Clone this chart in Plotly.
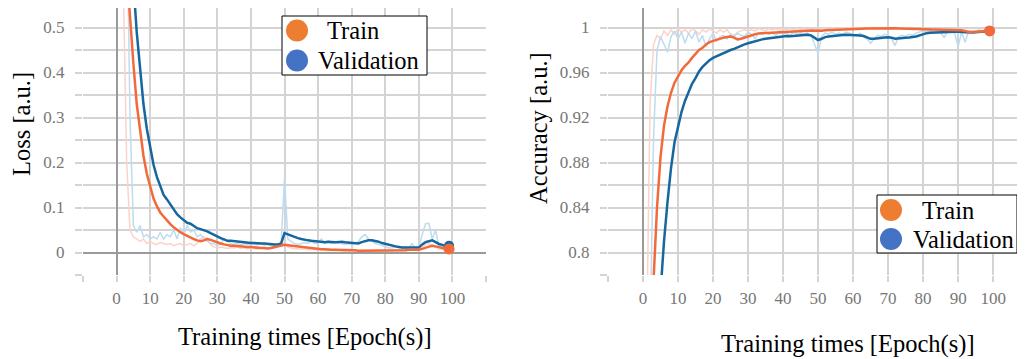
import plotly.graph_objects as go

epochs = list(range(100))

train_loss_raw = [1.8, 1.0, 0.6, 0.2, 0.05, 0.035, 0.03, 0.025, 0.03, 0.02,
                  0.025, 0.02, 0.018, 0.022, 0.02, 0.018, 0.02, 0.015, 0.018, 0.02,
                  0.015, 0.018, 0.02, 0.015, 0.02, 0.03, 0.035, 0.03, 0.018, 0.012,
                  0.01, 0.012, 0.01, 0.009, 0.011, 0.01, 0.012, 0.009, 0.01, 0.008,
                  0.01, 0.009, 0.008, 0.01, 0.008, 0.009, 0.01, 0.012, 0.015, 0.02,
                  0.02, 0.012, 0.01, 0.008, 0.009, 0.007, 0.008, 0.006, 0.007, 0.006,
                  0.005, 0.006, 0.005, 0.004, 0.005, 0.004, 0.005, 0.004, 0.003, 0.004,
                  0.003, 0.004, 0.003, 0.004, 0.003, 0.004, 0.003, 0.004, 0.004, 0.005,
                  0.004, 0.005, 0.004, 0.006, 0.005, 0.006, 0.005, 0.007, 0.006, 0.007,
                  0.008, 0.012, 0.018, 0.02, 0.015, 0.012, 0.008, 0.007, 0.006, 0.007]
val_loss_raw = [2.0, 1.6, 1.2, 0.8, 0.3, 0.06, 0.045, 0.06, 0.035, 0.04,
                0.03, 0.035, 0.03, 0.045, 0.03, 0.04, 0.035, 0.05, 0.03, 0.055,
                0.04, 0.06, 0.045, 0.05, 0.035, 0.04, 0.03, 0.025, 0.02, 0.02,
                0.015, 0.02, 0.03, 0.025, 0.02, 0.018, 0.02, 0.017, 0.02, 0.018,
                0.02, 0.018, 0.017, 0.02, 0.016, 0.018, 0.015, 0.014, 0.016, 0.02,
                0.165, 0.03, 0.025, 0.02, 0.018, 0.02, 0.022, 0.02, 0.025, 0.02,
                0.021, 0.03, 0.02, 0.025, 0.02, 0.022, 0.026, 0.02, 0.018, 0.02,
                0.018, 0.02, 0.025, 0.035, 0.04, 0.03, 0.025, 0.02, 0.018, 0.015,
                0.012, 0.01, 0.01, 0.012, 0.015, 0.01, 0.008, 0.01, 0.02, 0.008,
                0.01, 0.04, 0.064, 0.065, 0.03, 0.05, 0.012, 0.012, 0.01, 0.013]
train_loss_smooth = [1.2, 0.95, 0.78, 0.63, 0.52, 0.42, 0.33, 0.27, 0.215, 0.175,
                     0.145, 0.12, 0.103, 0.089, 0.08, 0.071, 0.063, 0.056, 0.05, 0.045,
                     0.041, 0.037, 0.033, 0.03, 0.027, 0.025, 0.027, 0.03, 0.028, 0.025,
                     0.022, 0.02, 0.018, 0.016, 0.015, 0.015, 0.014, 0.014, 0.013, 0.012,
                     0.012, 0.011, 0.01, 0.01, 0.01, 0.009, 0.01, 0.012, 0.014, 0.016,
                     0.017, 0.016, 0.015, 0.014, 0.013, 0.012, 0.011, 0.01, 0.009, 0.008,
                     0.008, 0.007, 0.007, 0.006, 0.006, 0.006, 0.006, 0.005, 0.005, 0.005,
                     0.005, 0.005, 0.004, 0.004, 0.004, 0.004, 0.004, 0.004, 0.004, 0.004,
                     0.004, 0.005, 0.005, 0.005, 0.005, 0.005, 0.005, 0.006, 0.006, 0.006,
                     0.006, 0.008, 0.011, 0.013, 0.015, 0.014, 0.012, 0.01, 0.009, 0.008]
val_loss_smooth = [1.5, 1.25, 1.05, 0.86, 0.72, 0.6, 0.49, 0.41, 0.33, 0.275,
                   0.23, 0.195, 0.168, 0.146, 0.128, 0.118, 0.106, 0.095, 0.085, 0.078,
                   0.072, 0.066, 0.064, 0.058, 0.054, 0.052, 0.05, 0.047, 0.043, 0.039,
                   0.035, 0.032, 0.029, 0.026, 0.026, 0.025, 0.024, 0.023, 0.022, 0.022,
                   0.021, 0.021, 0.02, 0.02, 0.02, 0.019, 0.019, 0.018, 0.018, 0.02,
                   0.043, 0.04, 0.037, 0.035, 0.032, 0.03, 0.028, 0.027, 0.026, 0.025,
                   0.024, 0.024, 0.023, 0.024, 0.023, 0.023, 0.023, 0.024, 0.023, 0.022,
                   0.022, 0.021, 0.02, 0.023, 0.025, 0.027, 0.027, 0.026, 0.024, 0.021,
                   0.019, 0.017, 0.015, 0.013, 0.012, 0.011, 0.011, 0.01, 0.011, 0.01,
                   0.011, 0.018, 0.023, 0.025, 0.027, 0.023, 0.019, 0.017, 0.014, 0.015]

train_acc_raw = [0.5, 0.7, 0.93, 0.985, 0.993, 0.99, 0.997, 0.993, 0.998, 0.994,
                 0.999, 0.996, 0.998, 0.995, 0.999, 0.997, 0.994, 0.998, 0.996, 0.999,
                 0.997, 0.995, 0.998, 0.996, 0.998, 0.994, 0.993, 0.996, 0.997, 0.998,
                 0.997, 0.998, 0.997, 0.999, 0.998, 0.997, 0.999, 0.998, 0.999, 0.997,
                 0.999, 0.998, 0.999, 0.998, 0.999, 0.998, 0.999, 0.998, 0.999, 0.997,
                 0.998, 0.999, 0.999, 0.998, 1.0, 0.999, 0.999, 1.0, 0.999, 1.0,
                 0.999, 1.0, 0.999, 1.0, 0.999, 1.0, 1.0, 0.999, 1.0, 0.999,
                 1.0, 0.999, 1.0, 1.0, 0.999, 1.0, 0.999, 0.998, 0.999, 0.998,
                 0.999, 0.998, 0.998, 0.999, 0.998, 0.998, 0.999, 0.998, 0.997, 0.998,
                 0.998, 0.996, 0.995, 0.996, 0.997, 0.997, 0.998, 0.997, 0.998, 0.998]
val_acc_raw = [0.4, 0.55, 0.72, 0.9, 0.98, 0.992, 0.985, 0.978, 0.992, 0.997,
               0.99, 0.996, 0.986, 0.995, 0.99, 0.997, 0.987, 0.993, 0.983, 0.99,
               0.995, 0.988, 0.992, 0.993, 0.99, 0.994, 0.992, 0.995, 0.993, 0.992,
               0.996, 0.994, 0.99, 0.995, 0.994, 0.996, 0.994, 0.995, 0.993, 0.996,
               0.994, 0.995, 0.993, 0.996, 0.994, 0.995, 0.994, 0.995, 0.993, 0.985,
               0.977, 0.992, 0.995, 0.994, 0.996, 0.994, 0.995, 0.994, 0.996, 0.995,
               0.994, 0.993, 0.995, 0.992, 0.99, 0.986, 0.99, 0.993, 0.992, 0.994,
               0.993, 0.99, 0.984, 0.992, 0.993, 0.992, 0.994, 0.993, 0.995, 0.996,
               0.997, 0.996, 0.997, 0.996, 0.997, 0.996, 0.991, 0.997, 0.996, 0.995,
               0.983, 0.996, 0.987, 0.997, 0.996, 0.997, 0.996, 0.997, 0.998, 0.998]
train_acc_smooth = [0.4, 0.55, 0.68, 0.775, 0.84, 0.885, 0.913, 0.93, 0.942, 0.951,
                    0.957, 0.962, 0.966, 0.969, 0.973, 0.977, 0.98, 0.982, 0.985, 0.987,
                    0.988, 0.9895, 0.99, 0.991, 0.9915, 0.992, 0.991, 0.9895, 0.99, 0.991,
                    0.9925, 0.9935, 0.994, 0.9948, 0.995, 0.9953, 0.9955, 0.9957, 0.996, 0.9962,
                    0.9963, 0.9965, 0.9966, 0.9967, 0.9968, 0.997, 0.9971, 0.9972, 0.9973, 0.9972,
                    0.997, 0.9972, 0.9975, 0.9977, 0.9979, 0.998, 0.9982, 0.9984, 0.9986, 0.9988,
                    0.999, 0.999, 0.9991, 0.9991, 0.9992, 0.9992, 0.9993, 0.9993, 0.9993, 0.9993,
                    0.9993, 0.9993, 0.9993, 0.9992, 0.9992, 0.9991, 0.9991, 0.999, 0.9988, 0.9986,
                    0.9985, 0.9984, 0.9983, 0.9982, 0.9982, 0.9981, 0.9981, 0.998, 0.998, 0.998,
                    0.998, 0.9975, 0.997, 0.996, 0.996, 0.9963, 0.9966, 0.9968, 0.997, 0.997]
val_acc_smooth = [0.3, 0.42, 0.53, 0.63, 0.72, 0.765, 0.81, 0.845, 0.875, 0.898,
                  0.912, 0.925, 0.935, 0.943, 0.95, 0.955, 0.961, 0.965, 0.968, 0.971,
                  0.973, 0.9745, 0.976, 0.9775, 0.979, 0.98, 0.981, 0.9825, 0.9835, 0.985,
                  0.986, 0.987, 0.988, 0.9888, 0.9895, 0.99, 0.9904, 0.991, 0.9915, 0.992,
                  0.992, 0.9924, 0.9922, 0.9925, 0.9928, 0.993, 0.9932, 0.9935, 0.993, 0.991,
                  0.9889, 0.99, 0.9915, 0.992, 0.9925, 0.993, 0.9932, 0.9934, 0.9935, 0.9935,
                  0.9935, 0.9933, 0.993, 0.9925, 0.9915, 0.99, 0.99, 0.9905, 0.991, 0.9912,
                  0.9913, 0.991, 0.99, 0.9905, 0.991, 0.991, 0.9912, 0.9915, 0.992, 0.993,
                  0.9943, 0.995, 0.9953, 0.9955, 0.9958, 0.996, 0.996, 0.9958, 0.996, 0.9962,
                  0.9963, 0.996, 0.9958, 0.9955, 0.9955, 0.9958, 0.996, 0.9965, 0.9968, 0.997]

x_tick_vals = [-10, 0, 10, 20, 30, 40, 50, 60, 70, 80, 90, 100, 110]
x_tick_text = ["", "0", "10", "20", "30", "40", "50", "60", "70", "80", "90", "100", ""]
loss_tick_vals = [-0.05, 0, 0.05, 0.1, 0.15, 0.2, 0.25, 0.3, 0.35, 0.4, 0.45, 0.5, 0.55]
loss_tick_text = ["", "0", "", "0.1", "", "0.2", "", "0.3", "", "0.4", "", "0.5", ""]
acc_tick_vals = [0.78, 0.8, 0.82, 0.84, 0.86, 0.88, 0.9, 0.92, 0.94, 0.96, 0.98, 1.0, 1.02]
acc_tick_text = ["", "0.8", "", "0.84", "", "0.88", "", "0.92", "", "0.96", "", "1", ""]

series_names = ["Train", "Validation"]
x_title = "Training times [Epoch(s)]"
y_titles = ["Loss [a.u.]", "Accuracy [a.u.]"]

ORANGE = "#F26A3B"
BLUE = "#17679F"
ORANGE_RAW = "#FCD3C6"
BLUE_RAW = "#BCDCEF"
LEG_ORANGE = "#ED7D31"
LEG_BLUE = "#4472C4"
SERIF = "Liberation Serif, Times New Roman, serif"

# page has an 8px body margin: screen pixel p -> figure pixel p - 8
OFF = 8
W, H = 1017, 351


def fx(p):
    return (p - OFF) / W


def fy(p):
    return 1 - (p - OFF) / H


fig = go.Figure()


def add_panel(xa, ya, tr_raw, va_raw, tr_s, va_s):
    fig.add_trace(go.Scatter(x=epochs, y=tr_raw, mode="lines", xaxis=xa, yaxis=ya,
                             line=dict(color=ORANGE_RAW, width=1.5), hoverinfo="skip"))
    fig.add_trace(go.Scatter(x=epochs, y=va_raw, mode="lines", xaxis=xa, yaxis=ya,
                             line=dict(color=BLUE_RAW, width=1.5), hoverinfo="skip"))
    fig.add_trace(go.Scatter(x=epochs, y=va_s, mode="lines", xaxis=xa, yaxis=ya,
                             name=series_names[1], line=dict(color=BLUE, width=2.5)))
    fig.add_trace(go.Scatter(x=epochs, y=tr_s, mode="lines", xaxis=xa, yaxis=ya,
                             name=series_names[0], line=dict(color=ORANGE, width=2.5)))
    fig.add_trace(go.Scatter(x=epochs[-1:], y=va_s[-1:], mode="markers", xaxis=xa, yaxis=ya,
                             marker=dict(color=BLUE, size=10, line=dict(width=0))))
    fig.add_trace(go.Scatter(x=epochs[-1:], y=tr_s[-1:], mode="markers", xaxis=xa, yaxis=ya,
                             marker=dict(color=ORANGE, size=11, line=dict(width=0))))


add_panel("x", "y", train_loss_raw, val_loss_raw, train_loss_smooth, val_loss_smooth)
add_panel("x2", "y2", train_acc_raw, val_acc_raw, train_acc_smooth, val_acc_smooth)

grid = "#d4d4d4"
tickfont = dict(family=SERIF, size=17, color="#777777")

common_x = dict(tickmode="array", tickvals=x_tick_vals, ticktext=x_tick_text,
                showgrid=True, gridcolor=grid, gridwidth=1.5,
                zeroline=True, zerolinecolor="#9a9a9a", zerolinewidth=2,
                ticks="outside", ticklen=6, tickcolor=grid, tickwidth=1.5,
                showline=False, tickfont=tickfont, ticklabelstandoff=2, fixedrange=True)
common_y = dict(tickmode="array", showgrid=True, gridcolor=grid, gridwidth=1.5,
                ticks="outside", ticklen=7, tickcolor=grid, tickwidth=1.5,
                showline=False, tickfont=tickfont, fixedrange=True)

# plot area: screen y 275 (bottom) .. screen y 8 (top of visible figure)
ydom = [fy(275), 1.0]
loss_px_per_unit = 449.0
acc_px_per_unit = 1122.5
loss_top = (252 - OFF) / loss_px_per_unit
acc_top = 0.8 + (252 - OFF) / acc_px_per_unit

shapes = []
annotations = []


def add_legend(box, circ_x, circ_ys, text_xs, d=22):
    x0, y0, x1, y1 = box
    shapes.append(dict(type="rect", xref="paper", yref="paper",
                       x0=fx(x0), x1=fx(x1), y0=fy(y1), y1=fy(y0),
                       line=dict(color="black", width=1), fillcolor="white", layer="above"))
    for name, col, cy, tx in zip(series_names, [LEG_ORANGE, LEG_BLUE], circ_ys, text_xs):
        shapes.append(dict(type="circle", xref="paper", yref="paper",
                           x0=fx(circ_x - d / 2), x1=fx(circ_x + d / 2),
                           y0=fy(cy + d / 2), y1=fy(cy - d / 2),
                           line=dict(width=0), fillcolor=col, layer="above"))
        annotations.append(dict(text=name, x=fx(tx), y=fy(cy), xref="paper", yref="paper",
                                showarrow=False, xanchor="left", yanchor="middle",
                                font=dict(family=SERIF, size=24.5, color="black"),
                                borderpad=0))


add_legend((282, 16, 427, 75), 297, [30.5, 60.5], [326, 317])
add_legend((877, 195, 1017, 253), 891, [210, 239], [921, 912])

annotations += [
    dict(text=x_title, x=fx(305), y=fy(337), xref="paper", yref="paper",
         showarrow=False, xanchor="center", yanchor="middle", font=dict(family=SERIF, size=24.5)),
    dict(text=x_title, x=fx(848), y=fy(344), xref="paper", yref="paper",
         showarrow=False, xanchor="center", yanchor="middle", font=dict(family=SERIF, size=24.5)),
    dict(text=y_titles[0], x=fx(22), y=fy(124), xref="paper", yref="paper", textangle=-90,
         showarrow=False, xanchor="center", yanchor="middle", font=dict(family=SERIF, size=24.5)),
    dict(text=y_titles[1], x=fx(538), y=fy(128), xref="paper", yref="paper", textangle=-90,
         showarrow=False, xanchor="center", yanchor="middle", font=dict(family=SERIF, size=24.5)),
]

fig.update_layout(
    width=W, height=H,
    margin=dict(l=0, r=0, t=0, b=0),
    paper_bgcolor="white", plot_bgcolor="white",
    font=dict(family=SERIF, color="black"),
    showlegend=False,
    xaxis=dict(domain=[fx(83), fx(486)], range=[-10, 110], anchor="y", **common_x),
    yaxis=dict(domain=ydom, range=[-0.05, loss_top], anchor="x",
               tickvals=loss_tick_vals, ticktext=loss_tick_text,
               zeroline=True, zerolinecolor="#9a9a9a", zerolinewidth=2,
               ticklabelstandoff=7, **common_y),
    xaxis2=dict(domain=[fx(608), 1.0], range=[-10, 109.1], anchor="y2", **common_x),
    yaxis2=dict(domain=ydom, range=[0.78, acc_top], anchor="x2",
                tickvals=acc_tick_vals, ticktext=acc_tick_text,
                zeroline=False, ticklabelstandoff=7, **common_y),
    shapes=shapes,
    annotations=annotations,
)

fig.write_html("out.html")
